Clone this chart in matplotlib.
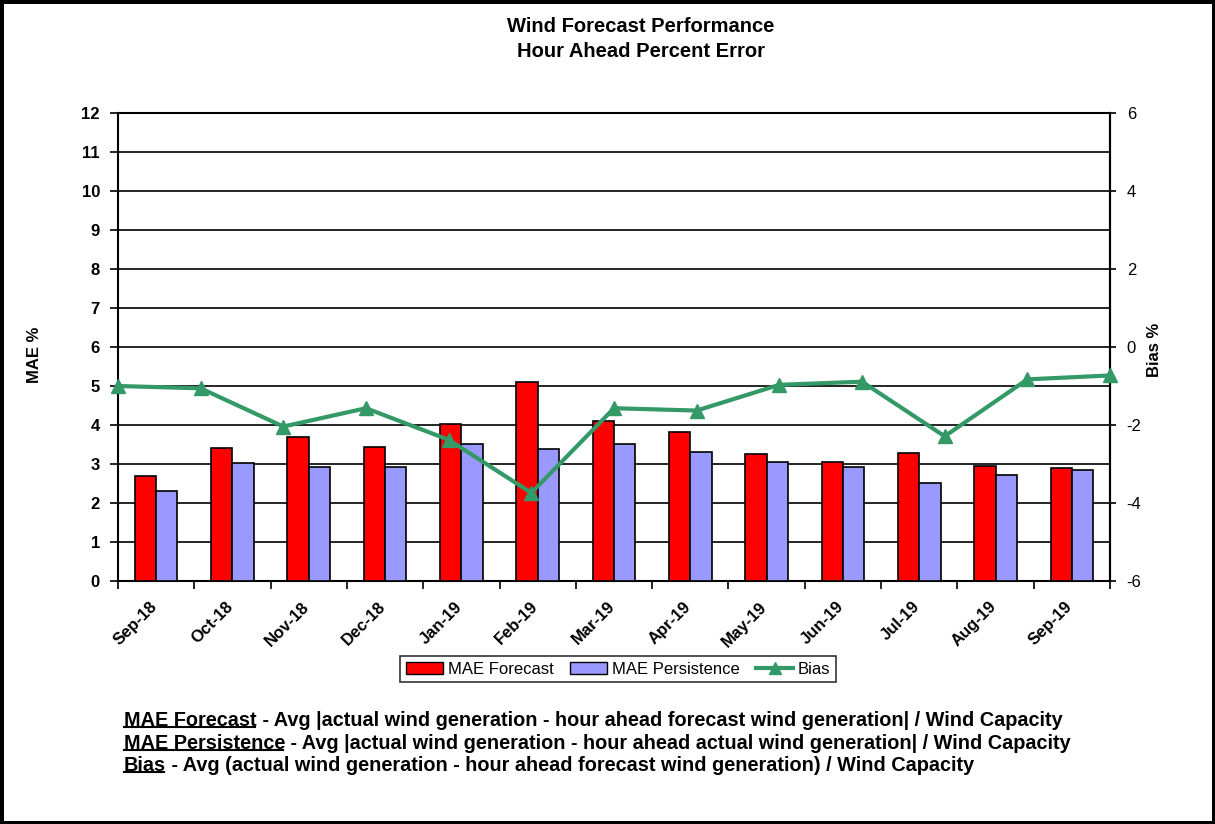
import numpy as np
import matplotlib
matplotlib.use('Agg')
import matplotlib.pyplot as plt
import matplotlib.transforms as mtransforms
from matplotlib.lines import Line2D
from matplotlib.patches import Patch

plt.rcParams['font.family'] = ['Liberation Sans', 'DejaVu Sans']

### date
months = ['Sep-18', 'Oct-18', 'Nov-18', 'Dec-18', 'Jan-19', 'Feb-19', 'Mar-19',
          'Apr-19', 'May-19', 'Jun-19', 'Jul-19', 'Aug-19', 'Sep-19']
mae_forecast = [2.68, 3.41, 3.69, 3.44, 4.03, 5.10, 4.09, 3.83, 3.26, 3.06, 3.29, 2.96, 2.89]
mae_persistence = [2.31, 3.03, 2.93, 2.93, 3.51, 3.38, 3.51, 3.31, 3.06, 2.93, 2.50, 2.71, 2.85]
bias = [-1.00, -1.06, -2.04, -1.57, -2.38, -3.74, -1.57, -1.63, -0.97, -0.89, -2.29, -0.83, -0.73]

red = '#ff0000'
blue = '#9999ff'
green = '#339966'

fig = plt.figure(figsize=(12.15, 8.24), dpi=100)
fig.patch.set_facecolor('white')
fig.patch.set_edgecolor('black')
fig.patch.set_linewidth(5)

ax = fig.add_axes([0.0971, 0.2949, 0.8165, 0.568])
x = np.arange(len(months))
w = 0.28
ax.bar(x - w / 2, mae_forecast, w, color=red, edgecolor='black', linewidth=1.2, label='MAE Forecast', zorder=3)
ax.bar(x + w / 2, mae_persistence, w, color=blue, edgecolor='black', linewidth=1.2, label='MAE Persistence', zorder=3)
ax.set_xlim(-0.5, len(months) - 0.5)
ax.set_ylim(0, 12)
ax.set_yticks(range(0, 13))
ax.set_yticklabels([str(v) for v in range(0, 13)], fontsize=12, fontweight='bold')
ax.yaxis.grid(True, color='black', linewidth=1.2)
ax.set_axisbelow(True)
ax.set_xticks(x)
ax.set_xticklabels(months, rotation=45, ha='right', rotation_mode='anchor', fontsize=12, fontweight='bold')
ax.set_xticks(np.arange(-0.5, len(months)), minor=True)
ax.tick_params(axis='x', which='major', length=0, pad=13)
ax.tick_params(axis='x', which='minor', length=6, width=1.2, direction='out')
ax.tick_params(axis='y', length=6, width=1.2, direction='out', pad=7)
for s in ax.spines.values():
    s.set_linewidth(1.5)
shift = mtransforms.ScaledTranslation(-7 / 100, 0, fig.dpi_scale_trans)
for lab in ax.get_xticklabels():
    lab.set_transform(lab.get_transform() + shift)

# axa secundara pentru bias
ax2 = ax.twinx()
ax2.set_ylim(-6, 6)
ax2.set_yticks(range(-6, 7, 2))
ax2.set_yticklabels([str(v) for v in range(-6, 7, 2)], fontsize=12)
ax2.tick_params(axis='y', length=4, width=1.2, direction='out', pad=8)
for k in ['left', 'top', 'bottom']:
    ax2.spines[k].set_visible(False)
ax2.spines['right'].set_linewidth(1.5)

lax = ax2.twiny()
lax.set_xlim(0, len(months) - 1)
lax.plot(range(len(bias)), bias, color=green, linewidth=3, marker='^', markersize=10, clip_on=False, zorder=5)
lax.set_xticks([])
for s in lax.spines.values():
    s.set_visible(False)

fig.text(0.0288, 0.569, 'MAE %', rotation=90, ha='center', va='center', fontsize=12, fontweight='bold')
fig.text(0.9506, 0.575, 'Bias %', rotation=90, ha='center', va='center', fontsize=12, fontweight='bold')

fig.text(0.5276, 0.968, 'Wind Forecast Performance', ha='center', va='center', fontsize=14.5, fontweight='bold')
fig.text(0.5276, 0.938, 'Hour Ahead Percent Error', ha='center', va='center', fontsize=14.5, fontweight='bold')

handles = [Patch(facecolor=red, edgecolor='black'),
           Patch(facecolor=blue, edgecolor='black'),
           Line2D([], [], color=green, linewidth=3, marker='^', markersize=8)]
leg = fig.legend(handles, ['MAE Forecast', 'MAE Persistence', 'Bias'], loc='center',
                 bbox_to_anchor=(0.509, 0.188), ncol=3, fontsize=12, frameon=True,
                 fancybox=False, edgecolor='black', handlelength=2.2, handletextpad=0.3,
                 columnspacing=1.0, borderpad=0.35)
leg.get_frame().set_linewidth(1.2)

# explicatii jos
rows = [('MAE Forecast', ' - Avg |actual wind generation - hour ahead forecast wind generation| / Wind Capacity'),
        ('MAE Persistence', ' - Avg |actual wind generation - hour ahead actual wind generation| / Wind Capacity'),
        ('Bias', ' - Avg (actual wind generation - hour ahead forecast wind generation) / Wind Capacity')]
ys = [0.114, 0.086, 0.060]
firsts = []
for (head, rest), yy in zip(rows, ys):
    t = fig.text(0.102, yy, head, ha='left', va='bottom', fontsize=14.3, fontweight='bold')
    ax.annotate(rest, xy=(1, 0), xycoords=t, ha='left', va='bottom', fontsize=14.3, fontweight='bold',
                annotation_clip=False)
    firsts.append(t)

fig.canvas.draw()
r = fig.canvas.get_renderer()
for t in firsts:
    bb = t.get_window_extent(r)
    fig.add_artist(Line2D([bb.x0, bb.x1 - 2], [bb.y0 + 3, bb.y0 + 3], transform=None, color='black', linewidth=1.5))

fig.savefig('out.png', dpi=100)
